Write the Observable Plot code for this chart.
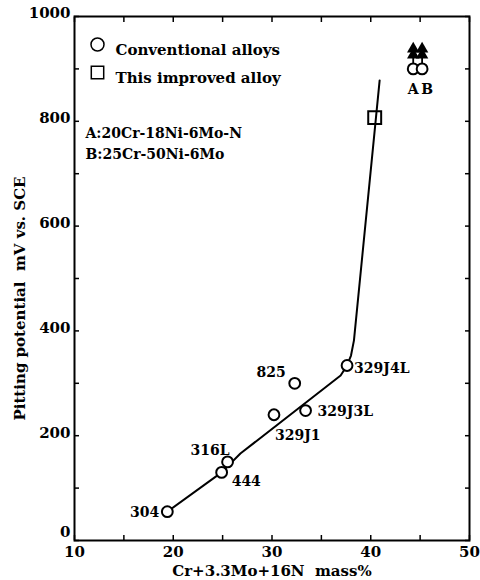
<!DOCTYPE html>
<html>
<head>
<meta charset="utf-8">
<script src="https://cdn.jsdelivr.net/npm/d3@7"></script>
<script src="https://cdn.jsdelivr.net/npm/@observablehq/plot@0.6"></script>
<style>
  html, body { margin: 0; padding: 0; background: #fff; }
  #chart svg { display: block; }
</style>
</head>
<body>
<div id="chart"></div>
<script>
// Conventional alloys (circles)
const alloys    = ["304", "444", "316L", "329J1", "825", "329J3L", "329J4L", "A", "B"];
const index     = [19.4, 24.9, 25.5, 30.2, 32.3, 33.4, 37.6, 44.3, 45.2];
const potential = [55, 130, 150, 240, 300, 248, 334, 900, 900];

// This improved alloy (square)
const improvedIndex = [40.4];
const improvedPotential = [807];

// Trend line drawn through the data
const trendIndex     = [19.4, 24.9, 26.8, 36.95, 37.6, 38.0, 38.3, 40.9];
const trendPotential = [55, 130, 166, 315, 334, 353, 382, 878];

// Alloys whose potential is a lower bound (arrows)
const lowerBound = ["A", "B"];

// Axis ticks
const xTicks = [10, 20, 30, 40, 50];
const yTicks = [200, 400, 600, 800, 1000];
const yZero = [0];
const xMinor = d3.range(10, 51, 5);
const yMinor = d3.range(0, 1001, 100);

const xLabel = "Cr+3.3Mo+16N  mass%";
const yLabel = "Pitting potential  mV vs. SCE";
const legendItems = ["Conventional alloys", "This improved alloy"];
const notes = ["A:20Cr-18Ni-6Mo-N", "B:25Cr-50Ni-6Mo"];

const pts = alloys.map((name, i) => ({name, x: index[i], y: potential[i]}));
const improved = improvedIndex.map((x, i) => ({x, y: improvedPotential[i]}));
const trend = trendIndex.map((x, i) => ({x, y: trendPotential[i]}));
const bounds = pts.filter(d => lowerBound.includes(d.name));

const FONT = "DejaVu Serif";
const txt = {fontFamily: FONT, fontWeight: "bold", fontSize: 14, fill: "black"};
const tickText = {tickSize: 0, label: null, tickFormat: d => String(d), fontFamily: FONT, fontWeight: "bold", fontSize: 15};

function label(name, dx, dy, anchor) {
  return Plot.text(pts.filter(d => d.name === name), {
    x: "x", y: "y", text: "name", dx, dy, textAnchor: anchor, ...txt
  });
}

const chart = Plot.plot({
  width: 480,
  height: 580,
  marginLeft: 74,
  marginRight: 11,
  marginTop: 16,
  marginBottom: 40,
  style: {fontFamily: FONT, fontWeight: "bold", fontSize: "14px", color: "black", background: "white"},
  x: {domain: [10, 50]},
  y: {domain: [0, 1000]},
  marks: [
    // inward tick marks on all four sides
    Plot.axisX({anchor: "bottom", ticks: xMinor, tickSize: -5, tickFormat: () => "", label: null, strokeWidth: 1.5}),
    Plot.axisX({anchor: "top", ticks: xMinor, tickSize: -5, tickFormat: () => "", label: null, strokeWidth: 1.5}),
    Plot.axisY({anchor: "left", ticks: yMinor, tickSize: -5, tickFormat: () => "", label: null, strokeWidth: 1.5}),
    Plot.axisY({anchor: "right", ticks: yMinor, tickSize: -5, tickFormat: () => "", label: null, strokeWidth: 1.5}),
    // tick labels
    Plot.axisX({anchor: "bottom", ticks: xTicks, tickPadding: 6, ...tickText}),
    Plot.axisY({anchor: "left", ticks: yTicks, tickPadding: 4, dy: -3, ...tickText}),
    Plot.axisY({anchor: "left", ticks: yZero, tickPadding: 4, dy: -8, ...tickText}),
    Plot.frame({stroke: "black", strokeWidth: 2}),
    // axis titles
    Plot.text([xLabel], {frameAnchor: "bottom", dy: 35, textAnchor: "middle", ...txt, fontSize: 15}),
    Plot.text([yLabel], {frameAnchor: "left", dx: -54, dy: 20, rotate: -90, textAnchor: "middle", ...txt, fontSize: 15}),
    // trend line
    Plot.line(trend, {x: "x", y: "y", stroke: "black", strokeWidth: 2}),
    // arrows for lower-bound alloys
    Plot.ruleX(bounds, {x: "x", y1: "y", y2: d => d.y + 36, stroke: "black", strokeWidth: 1.8}),
    Plot.dot(bounds, {x: "x", y: "y", dy: -20, symbol: "triangle", r: 4.6, fill: "black", stroke: "none"}),
    Plot.dot(bounds, {x: "x", y: "y", dy: -14, symbol: "triangle", r: 4.6, fill: "black", stroke: "none"}),
    // points
    Plot.dot(pts, {x: "x", y: "y", r: 5.4, fill: "white", stroke: "black", strokeWidth: 2}),
    Plot.dot(improved, {x: "x", y: "y", symbol: "square", r: 7.3, fill: "none", stroke: "black", strokeWidth: 2}),
    // point labels
    label("304", -8, 1, "end"),
    label("444", 10, 9, "start"),
    label("316L", 2, -11, "end"),
    label("329J1", 1, 21, "start"),
    label("825", -9, -11, "end"),
    label("329J3L", 12, 1, "start"),
    label("329J4L", 7, 3, "start"),
    label("A", 0, 21, "middle"),
    label("B", 5, 21, "middle"),
    // legend
    Plot.dot([legendItems[0]], {frameAnchor: "top-left", dx: 23, dy: 28, r: 6.5, fill: "white", stroke: "black", strokeWidth: 1.5}),
    Plot.dot([legendItems[1]], {frameAnchor: "top-left", dx: 23, dy: 56, symbol: "square", r: 7, fill: "none", stroke: "black", strokeWidth: 1.5}),
    Plot.text([legendItems[0]], {frameAnchor: "top-left", dx: 41, dy: 28, textAnchor: "start", ...txt, fontSize: 15}),
    Plot.text([legendItems[1]], {frameAnchor: "top-left", dx: 41, dy: 56, textAnchor: "start", ...txt, fontSize: 15}),
    // composition notes
    Plot.text([notes[0]], {frameAnchor: "top-left", dx: 11, dy: 112, textAnchor: "start", ...txt, fontSize: 14}),
    Plot.text([notes[1]], {frameAnchor: "top-left", dx: 11, dy: 133, textAnchor: "start", ...txt, fontSize: 14})
  ]
});
document.getElementById("chart").appendChild(chart);
</script>
</body>
</html>
